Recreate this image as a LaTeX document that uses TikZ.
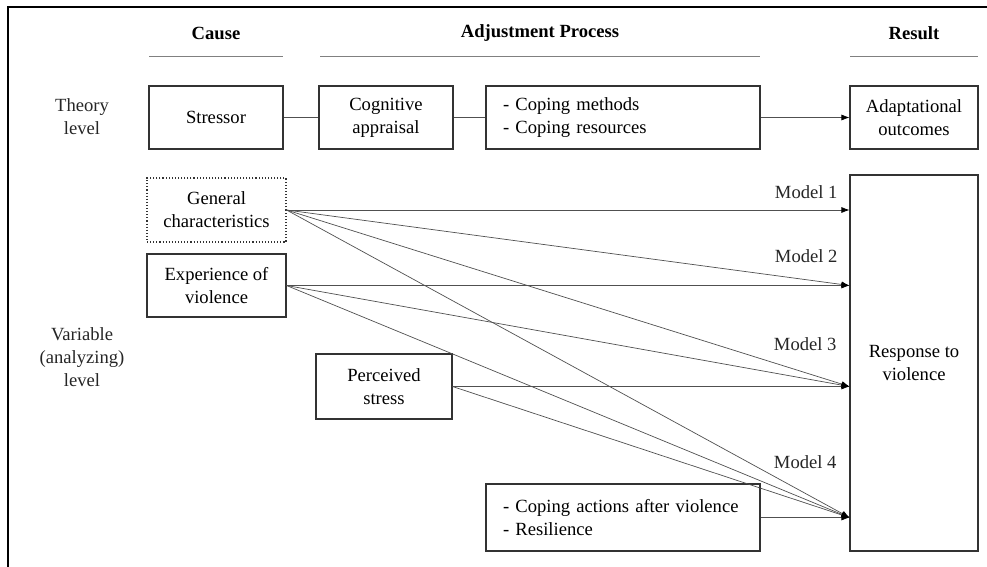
\documentclass[tikz,border=0pt]{standalone}
\usepackage{fontspec}
\setmainfont{Liberation Serif}
\usetikzlibrary{arrows.meta}
\definecolor{boxline}{HTML}{333333}
\definecolor{conn}{HTML}{505050}
\begin{document}
\begin{tikzpicture}[x=1pt,y=-1pt,
  every node/.style={font=\fontsize{18.6}{23}\selectfont},
  box/.style={draw=boxline, line width=1.1pt, inner sep=0pt, align=center, fill=white},
  lbox/.style={draw=boxline, line width=1.1pt, inner ysep=0pt, inner xsep=17pt, align=left, fill=white},
  dbox/.style={box, dotted, draw=boxline},
  conn/.style={draw=conn, line width=0.7pt},
  arr/.style={conn, -{Latex[length=8pt,width=6pt,fill=black,color=black]}},
  hdr/.style={font=\fontsize{18.6}{23}\selectfont\bfseries},
  rule/.style={draw=gray, line width=1pt},
  lvl/.style={align=center, text=black!85},
  mlab/.style={anchor=east, text=black!85}
]
\useasboundingbox (0,0) rectangle (987,567);
\fill[white] (0,0) rectangle (987,567);
% frame
\coordinate (fa) at (987,7);
\coordinate (fb) at (8,7);
\coordinate (fc) at (8,567);
\draw[line width=1.1pt] (fa) -- (fb) -- (fc);

% headers
\node[hdr] (hcause) at (216,33) {Cause};
\node[hdr] (hadj) at (540,33) {Adjustment Process};
\node[hdr] (hres) at (914,33) {Result};
\coordinate (r1a) at (149,57); \coordinate (r1b) at (283,57);
\coordinate (r2a) at (320,57); \coordinate (r2b) at (760,57);
\coordinate (r3a) at (850,57); \coordinate (r3b) at (978,57);
\draw[rule] (r1a) -- (r1b);
\draw[rule] (r2a) -- (r2b);
\draw[rule] (r3a) -- (r3b);

% level labels
\node[lvl] (theory) at (82,117) {Theory\\level};
\node[lvl] (variable) at (82,357) {Variable\\(analyzing)\\level};

% theory row
\node[box, minimum width=134pt, minimum height=63pt] (stressor) at (216,117.5) {Stressor};
\node[box, minimum width=134pt, minimum height=63pt] (cog) at (386,117.5) {Cognitive\\appraisal};
\node[lbox, text width=240pt, minimum height=63pt] (cope) at (623,117.5) {- Coping methods\\- Coping resources};
\node[box, minimum width=128pt, minimum height=63pt] (adapt) at (914,117.5) {Adaptational\\outcomes};
\draw[conn] (stressor) -- (cog);
\draw[conn] (cog) -- (cope);
\draw[arr] (cope) -- (adapt);

% variable level
\node[dbox, minimum width=139pt, minimum height=64pt] (gc) at (216.5,210) {General\\characteristics};
\node[box, minimum width=139pt, minimum height=63pt] (exp) at (216.5,285.5) {Experience of\\violence};
\node[box, minimum width=136pt, minimum height=65pt] (ps) at (384,386.5) {Perceived\\stress};
\node[lbox, text width=240pt, minimum height=67pt] (ca) at (623,517.5) {- Coping actions after violence\\- Resilience};
\node[box, minimum width=128pt, minimum height=376pt] (resp) at (914,363) {Response to\\violence};

\coordinate (m1) at (gc.east -| resp.west);
\coordinate (m2) at (exp.east -| resp.west);
\coordinate (m3) at (ps.east -| resp.west);
\coordinate (m4) at (ca.east -| resp.west);

\draw[arr] (gc.east) -- (m1);
\draw[arr] (gc.east) -- (m2);
\draw[arr] (gc.east) -- (m3);
\draw[arr] (gc.east) -- (m4);
\draw[arr] (exp.east) -- (m2);
\draw[arr] (exp.east) -- (m3);
\draw[arr] (exp.east) -- (m4);
\draw[arr] (ps.east) -- (m3);
\draw[arr] (ps.east) -- (m4);
\draw[arr] (ca.east) -- (m4);

\node[mlab] (ml1) at (841,192) {Model 1};
\node[mlab] (ml2) at (841,256) {Model 2};
\node[mlab] (ml3) at (840,344) {Model 3};
\node[mlab] (ml4) at (840,462) {Model 4};
\end{tikzpicture}
\end{document}
